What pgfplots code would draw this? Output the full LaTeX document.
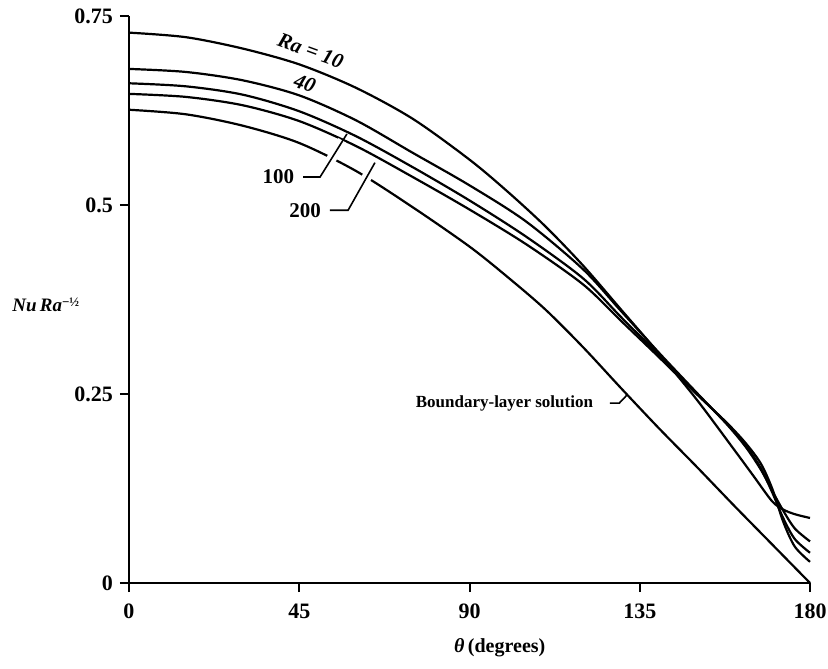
\documentclass[border=0pt]{standalone}
\usepackage{pgfplots}
\pgfplotsset{compat=1.18}
\usepackage{pgfplotstable}
\usepackage{fontspec}
\setmainfont{Liberation Serif}

\pgfplotstableread{
t v
0 0.728
15 0.722
30 0.707
45 0.686
60 0.655
75 0.614
90 0.560
100 0.518
110 0.472
120 0.420
130 0.362
140 0.304
150 0.243
160 0.176
165 0.142
170 0.108
173 0.097
176 0.091
180 0.086
}\raten

\pgfplotstableread{
t v
0 0.680
15 0.676
30 0.665
45 0.645
60 0.612
75 0.569
90 0.526
105 0.478
120 0.415
130 0.360
140 0.305
150 0.252
158 0.210
163 0.180
167 0.150
170 0.122
173 0.095
176 0.072
180 0.055
}\rafourty

\pgfplotstableread{
t v
0 0.661
15 0.657
30 0.646
45 0.624
60 0.591
75 0.550
90 0.506
105 0.458
120 0.403
130 0.352
140 0.302
150 0.251
158 0.211
163 0.182
167 0.152
170 0.120
173 0.085
176 0.058
180 0.040
}\rahundred

\pgfplotstableread{
t v
0 0.647
15 0.643
30 0.632
45 0.611
60 0.578
75 0.537
90 0.494
105 0.448
120 0.395
130 0.347
140 0.299
150 0.250
158 0.212
163 0.185
167 0.158
170 0.125
173 0.080
176 0.048
180 0.028
}\ratwohundred

\pgfplotstableread{
t v
0 0.626
15 0.620
30 0.605
45 0.582
60 0.545
75 0.497
90 0.445
100 0.405
110 0.362
120 0.312
130 0.258
140 0.205
150 0.154
160 0.102
170 0.051
180 0.000
}\bl

\begin{document}
\begin{tikzpicture}
\begin{axis}[
  at={(0,0)}, anchor=origin,
  scale only axis, width=340.5pt, height=283.5pt,
  xmin=0, xmax=180, ymin=0, ymax=0.75,
  axis x line*=bottom, axis y line*=left,
  xtick={0,45,90,135,180}, ytick={0,0.25,0.5,0.75},
  xticklabels={0,45,90,135,180}, yticklabels={0,0.25,0.5,0.75},
  tick align=outside, major tick length=4.5pt,
  tick style={line width=1pt, black},
  axis line style={line width=1.1pt},
  ticklabel style={font=\fontsize{11}{13}\selectfont\bfseries},
  xticklabel style={yshift=-2.5pt},
  clip=false,
  curve/.style={black, line width=1.1pt, smooth, tension=0.5, mark=none},
]
\addplot[curve] table[x=t,y=v] {\raten};
\addplot[curve] table[x=t,y=v] {\rafourty};
\addplot[curve] table[x=t,y=v] {\rahundred};
\addplot[curve] table[x=t,y=v] {\ratwohundred};
\addplot[curve] table[x=t,y=v] {\bl};

% leaders
\draw[line width=0.8pt, preaction={draw=white, line width=5pt, shorten >=4pt}]
  (axis cs:46.0,0.537) -- (axis cs:50.5,0.537) -- (axis cs:57.6,0.594);
\draw[line width=0.8pt, preaction={draw=white, line width=5pt, shorten >=4pt}]
  (axis cs:53.1,0.493) -- (axis cs:57.9,0.493) -- (axis cs:65.0,0.556);
\draw[line width=0.8pt] (axis cs:127.1,0.238) -- (axis cs:129.6,0.238) -- (axis cs:131.7,0.249);

\node[font=\fontsize{10.5}{12}\selectfont\bfseries\itshape, rotate=-20, inner sep=1pt] at (axis cs:48.0,0.704) {Ra = 10};
\node[font=\fontsize{10.5}{12}\selectfont\bfseries\itshape, rotate=-20, inner sep=1pt] at (axis cs:46.5,0.661) {40};
\node[font=\fontsize{10.5}{12}\selectfont\bfseries, anchor=east] at (axis cs:45.5,0.537) {100};
\node[font=\fontsize{10.5}{12}\selectfont\bfseries, anchor=east] at (axis cs:52.6,0.493) {200};
\node[font=\fontsize{8.5}{10}\selectfont\bfseries, anchor=east] at (axis cs:124.5,0.238) {Boundary-layer solution};
\node[font=\fontsize{9.5}{11}\selectfont\bfseries, anchor=west, inner sep=0pt] at ([xshift=-58.5pt]axis cs:0,0.368) {\textit{Nu\,Ra}\raisebox{0.55ex}{\fontsize{6.5}{7}\selectfont\bfseries −½}};
\node[font=\fontsize{10}{12}\selectfont\bfseries] at ([yshift=-32.5pt]axis cs:98,0) {\textit{θ}\,(degrees)};
\end{axis}
\pgfresetboundingbox
\path[use as bounding box] (-64.5pt,-42.5pt) rectangle (349.5pt,291.5pt);
\end{tikzpicture}
\end{document}
